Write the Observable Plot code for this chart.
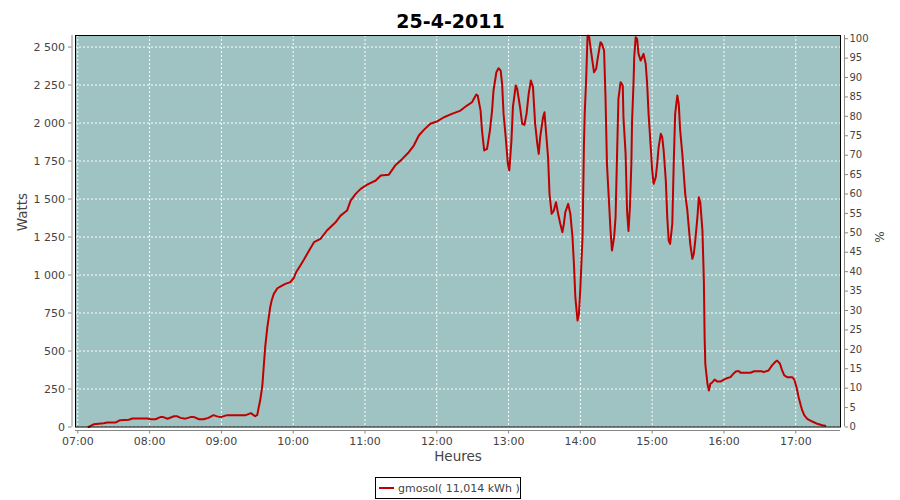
<!DOCTYPE html>
<html><head><meta charset="utf-8">
<script src="https://cdn.jsdelivr.net/npm/d3@7"></script>
<script src="https://cdn.jsdelivr.net/npm/@observablehq/plot@0.6"></script>
<style>
body{margin:0;background:#fff;}
#wrap{position:relative;width:900px;height:500px;font-family:"DejaVu Sans",sans-serif;}
#legend{position:absolute;left:375px;top:477px;width:144px;height:20px;border:1px solid #000;display:flex;align-items:center;font-size:11px;color:#444;white-space:pre;}
#legend .sw{display:inline-block;width:15px;height:2px;background:#c00000;margin-left:3px;margin-right:4px;}
</style></head>
<body><div id="wrap"><div id="legend"><span class="sw"></span><span id="legtext"></span></div></div>
<script>
const title = "25-4-2011";
const seriesName = "gmosol( 11,014 kWh )";
const yLabel = "Watts";
const y2Label = "%";
const xLabel = "Heures";

// time of day in decimal hours
const hours = [
  7.15,7.22,7.36,7.41,7.53,7.59,7.71,7.76,7.97,
  8.01,8.08,8.15,8.19,8.25,8.34,8.38,8.43,8.50,8.57,8.62,8.69,8.75,8.82,8.89,8.94,8.99,
  9.08,9.34,9.41,9.47,9.50,9.52,9.54,9.57,9.59,9.61,9.64,9.66,9.68,9.70,9.73,9.78,9.82,9.89,9.96,
  10.01,10.04,10.10,10.15,10.22,10.29,10.38,10.47,10.59,10.66,10.75,10.80,10.87,10.94,
  11.03,11.15,11.22,11.33,11.42,11.52,11.61,11.68,11.75,11.82,11.91,
  12.01,12.10,12.21,12.33,12.42,12.49,12.55,12.57,12.61,12.63,12.66,12.70,12.74,12.77,12.79,12.83,12.86,12.89,12.91,12.93,12.96,12.99,
  13.01,13.04,13.06,13.10,13.12,13.16,13.19,13.22,13.25,13.28,13.31,13.34,13.37,13.40,13.42,13.44,13.48,13.50,13.52,13.55,13.57,13.60,13.63,13.66,13.69,13.72,13.75,13.77,13.79,13.83,13.86,13.89,13.91,13.93,13.96,13.98,
  14.00,14.03,14.04,14.05,14.06,14.08,14.10,14.12,14.15,14.19,14.22,14.24,14.28,14.30,14.33,14.35,14.37,14.40,14.42,14.44,14.47,14.49,14.51,14.53,14.56,14.59,14.60,14.63,14.65,14.67,14.69,14.71,14.72,14.74,14.75,14.77,14.79,14.81,14.84,14.86,14.88,14.91,14.93,14.95,14.98,
  15.00,15.02,15.05,15.07,15.09,15.12,15.14,15.16,15.19,15.21,15.23,15.25,15.28,15.30,15.32,15.35,15.37,15.39,15.42,15.44,15.46,15.49,15.51,15.53,15.56,15.58,15.60,15.63,15.65,15.67,15.70,15.72,15.73,15.74,15.77,15.79,15.81,15.84,15.87,15.91,15.95,
  16.00,16.04,16.09,16.13,16.17,16.21,16.23,16.37,16.42,16.53,16.55,16.62,16.67,16.72,16.74,16.78,16.81,16.84,16.88,16.95,16.98,
  17.01,17.04,17.07,17.09,17.12,17.16,17.23,17.30,17.37,17.41
];
const watts = [
  0,18,25,30,30,45,48,56,56,
  51,51,65,65,54,71,71,60,55,65,65,51,51,60,78,70,65,
  78,78,91,71,80,130,174,270,400,525,657,722,788,832,876,913,924,942,953,
  982,1018,1063,1102,1160,1216,1238,1293,1347,1391,1424,1490,1534,1567,
  1595,1622,1655,1659,1720,1764,1808,1852,1918,1955,1995,
  2012,2038,2060,2082,2115,2137,2188,2181,2082,1951,1820,1830,1951,2082,2214,2334,2361,2345,2258,2060,1907,1732,
  1688,1885,2104,2247,2225,2104,1995,1988,2060,2192,2280,2236,1995,1863,1797,1907,2038,2071,1951,1775,1534,1403,1424,1479,1403,1337,1282,1337,1413,1468,1403,1249,1074,854,701,745,
  920,1249,1556,1863,2060,2280,2575,2575,2466,2334,2357,2422,2532,2521,2477,2170,1732,1468,1293,1161,1249,1380,1775,2159,2269,2247,2038,1797,1424,1290,1446,1732,2016,2258,2433,2565,2554,2455,2411,2433,2455,2390,2258,2060,1841,
  1688,1600,1643,1732,1841,1929,1907,1819,1622,1380,1227,1205,1337,1732,2060,2181,2126,1951,1797,1666,1534,1424,1314,1205,1107,1140,1227,1380,1512,1479,1293,964,600,416,284,240,284,295,312,299,299,
  312,321,328,350,367,367,357,357,367,367,361,372,405,431,437,416,372,339,328,328,312,
  262,196,141,109,76,54,36,21,12,8
];

const hourTicks = [7,8,9,10,11,12,13,14,15,16,17];
const hourLabels = ["07:00","08:00","09:00","10:00","11:00","12:00","13:00","14:00","15:00","16:00","17:00"];
const wattTicks = [0,250,500,750,1000,1250,1500,1750,2000,2250,2500];
const pctTicks = [0,5,10,15,20,25,30,35,40,45,50,55,60,65,70,75,80,85,90,95,100];
const peakPower = 2555;           // watts that correspond to 100 %
const xDomain = [6.968, 17.623];
const yDomain = [0, 2576];

const data = hours.map((h, i) => ({h, w: watts[i]}));
const fmtW = d3.formatLocale({thousands: " ", grouping: [3], decimal: ","}).format(",d");
const pctAsWatts = pctTicks.map(p => p * peakPower / 100);

const chart = Plot.plot({
  width: 900,
  height: 500,
  marginLeft: 75,
  marginRight: 60,
  marginTop: 35,
  marginBottom: 73.5,
  style: {fontFamily: "DejaVu Sans, sans-serif", fontSize: "11px", background: "white", color: "#444"},
  x: {domain: xDomain},
  y: {domain: yDomain},
  marks: [
    Plot.frame({fill: "#9ec3c2", stroke: "none"}),
    Plot.gridY(wattTicks, {stroke: "white", strokeOpacity: 1, strokeDasharray: "2,2"}),
    Plot.gridX(hourTicks, {stroke: "white", strokeOpacity: 1, strokeDasharray: "2,2"}),
    Plot.line(data, {x: "h", y: "w", stroke: "#c00000", strokeWidth: 2}),
    Plot.frame({stroke: "black", fill: "none"}),
    // axis lines
    Plot.ruleX([xDomain[0]], {dx: -3.5, stroke: "#888"}),
    Plot.ruleX([xDomain[1]], {dx: 4, stroke: "#888"}),
    Plot.ruleY([yDomain[0]], {dy: 3.5, stroke: "#888"}),
    // left axis
    Plot.axisY(wattTicks, {anchor: "left", tickSize: 3.5, dx: -3.5, tickFormat: () => "", color: "#888", label: null}),
    Plot.axisY(wattTicks, {anchor: "left", tickSize: 0, tickPadding: 7, dx: -3.5, tickFormat: fmtW, color: "#444", fontSize: 11, label: null}),
    // right axis (%)
    Plot.axisY(pctAsWatts, {anchor: "right", tickSize: 3, dx: 4, tickFormat: () => "", color: "#888", label: null}),
    Plot.axisY(pctAsWatts, {anchor: "right", tickSize: 0, tickPadding: 5, dx: 4, tickFormat: d => Math.round(d / peakPower * 100), color: "#444", fontSize: 10, label: null}),
    // bottom axis
    Plot.axisX(hourTicks, {anchor: "bottom", tickSize: 3.5, dy: 3.5, tickFormat: () => "", color: "#888", label: null}),
    Plot.axisX(hourTicks, {anchor: "bottom", tickSize: 0, tickPadding: 7, dy: 3.5, tickFormat: (d, i) => hourLabels[i], color: "#444", fontSize: 11, label: null}),
    // titles
    Plot.text([title], {text: d => d, frameAnchor: "top", dy: -21, dx: -7.5, fontSize: 19, fontWeight: "bold", fill: "black"}),
    Plot.text([xLabel], {text: d => d, frameAnchor: "bottom", dy: 33.5, fontSize: 13.5, fill: "#444"}),
    Plot.text([yLabel], {text: d => d, frameAnchor: "left", dx: -53, rotate: -90, fontSize: 13.5, fill: "#444"}),
    Plot.text([y2Label], {text: d => d, frameAnchor: "right", dx: 40, rotate: -90, fontSize: 12, fill: "#444"})
  ]
});
document.getElementById("wrap").prepend(chart);
document.getElementById("legtext").textContent = seriesName;
</script>
</body></html>
